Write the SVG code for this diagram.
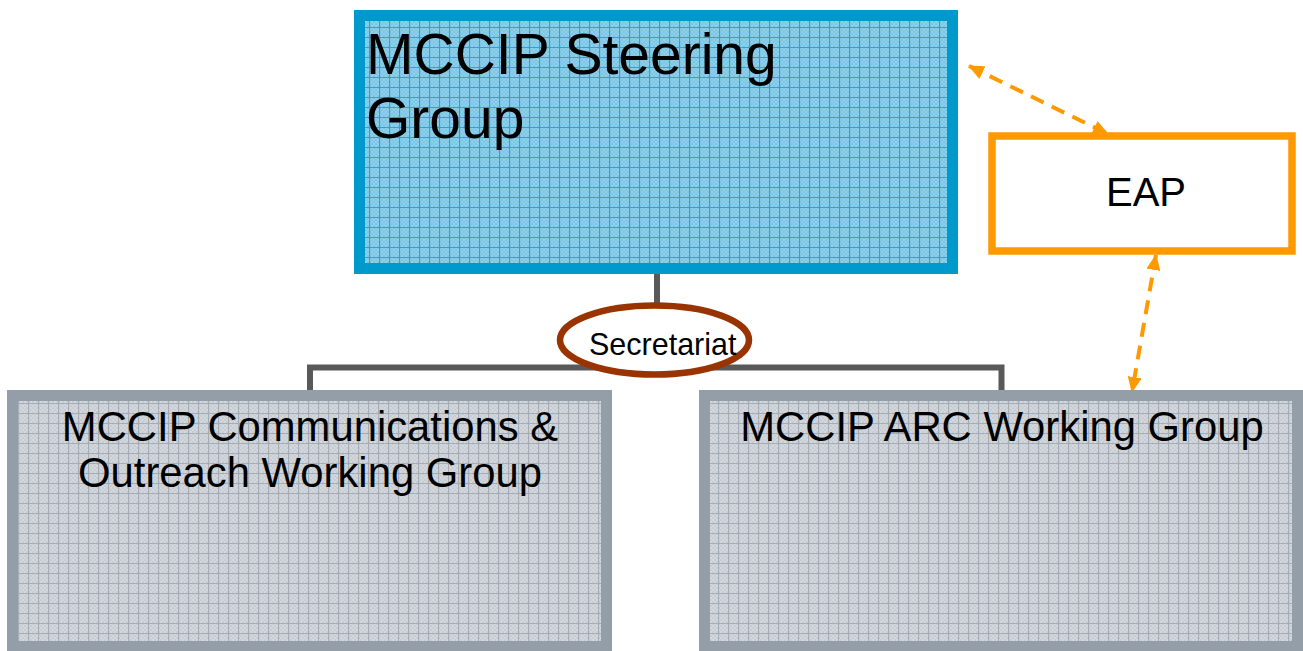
<svg xmlns="http://www.w3.org/2000/svg" width="1303" height="651" viewBox="0 0 1303 651">
  <style>
    .t { font-family: "Liberation Sans", Arial, sans-serif; fill: #000; }
    .tree { fill: none; stroke: #595959; stroke-width: 6; }
    .dash { fill: none; stroke: #ff9900; stroke-width: 4; stroke-dasharray: 14 9; }
  </style>
  <defs>
    <pattern id="chkBlue" width="4" height="4" patternUnits="userSpaceOnUse">
      <rect width="4" height="4" fill="#8fd0ea"/>
      <rect width="2" height="2" fill="#7cc6e3"/>
      <rect x="2" y="2" width="2" height="2" fill="#7cc6e3"/>
    </pattern>
    <pattern id="gridBlue" width="10" height="10" patternUnits="userSpaceOnUse" x="9" y="7">
      <rect width="10" height="10" fill="url(#chkBlue)"/>
      <path d="M0.5 0 V10 M0 0.5 H10" stroke="#2ca3d3" stroke-width="1.2" fill="none"/>
    </pattern>
    <pattern id="chkGray" width="4" height="4" patternUnits="userSpaceOnUse">
      <rect width="4" height="4" fill="#d4d8dd"/>
      <rect width="2" height="2" fill="#c8cdd3"/>
      <rect x="2" y="2" width="2" height="2" fill="#c8cdd3"/>
    </pattern>
    <pattern id="gridGray" width="10" height="10" patternUnits="userSpaceOnUse" x="8" y="3">
      <rect width="10" height="10" fill="url(#chkGray)"/>
      <path d="M0.5 0 V10 M0 0.5 H10" stroke="#a4acb5" stroke-width="1.2" fill="none"/>
    </pattern>
    <marker id="ah" viewBox="0 0 16 14" refX="15" refY="7" markerWidth="16" markerHeight="14" markerUnits="userSpaceOnUse" orient="auto-start-reverse">
      <path d="M0 0 L16 7 L0 14 Z" fill="#ff9900"/>
    </marker>
  </defs>

  <g id="connectors">
    <path class="tree" d="M657 274 V310"/>
    <path class="tree" d="M310 392 V367.5 H1001.5 V392"/>
    <path class="dash" d="M969 66 L1108 134" marker-start="url(#ah)" marker-end="url(#ah)"/>
    <path class="dash" d="M1156 255 L1132 392" marker-start="url(#ah)" marker-end="url(#ah)"/>
  </g>

  <g id="steering">
    <rect x="359.5" y="15.5" width="593" height="253" fill="url(#gridBlue)" stroke="#0099cc" stroke-width="11"/>
    <text class="t" x="366" y="74" font-size="57">MCCIP Steering</text>
    <text class="t" x="366" y="138" font-size="57">Group</text>
  </g>

  <g id="eap">
    <rect x="992" y="136" width="300" height="115" fill="#ffffff" stroke="#ff9900" stroke-width="7.5"/>
    <text class="t" x="1146" y="206" font-size="40" text-anchor="middle">EAP</text>
  </g>

  <g id="secretariat">
    <ellipse cx="654.5" cy="340" rx="94.5" ry="34.5" fill="#ffffff" stroke="#993300" stroke-width="6.5"/>
    <text class="t" x="589" y="355" font-size="30.5">Secretariat</text>
  </g>

  <g id="comms">
    <rect x="12.5" y="395.5" width="594" height="251" fill="url(#gridGray)" stroke="#949ea8" stroke-width="11"/>
    <text class="t" x="310" y="441" font-size="41.8" text-anchor="middle">MCCIP Communications &amp;</text>
    <text class="t" x="310" y="487" font-size="41.8" text-anchor="middle">Outreach Working Group</text>
  </g>

  <g id="arc">
    <rect x="704.5" y="395.5" width="593" height="251" fill="url(#gridGray)" stroke="#949ea8" stroke-width="11"/>
    <text class="t" x="1002" y="441" font-size="41.8" text-anchor="middle">MCCIP ARC Working Group</text>
  </g>
</svg>
